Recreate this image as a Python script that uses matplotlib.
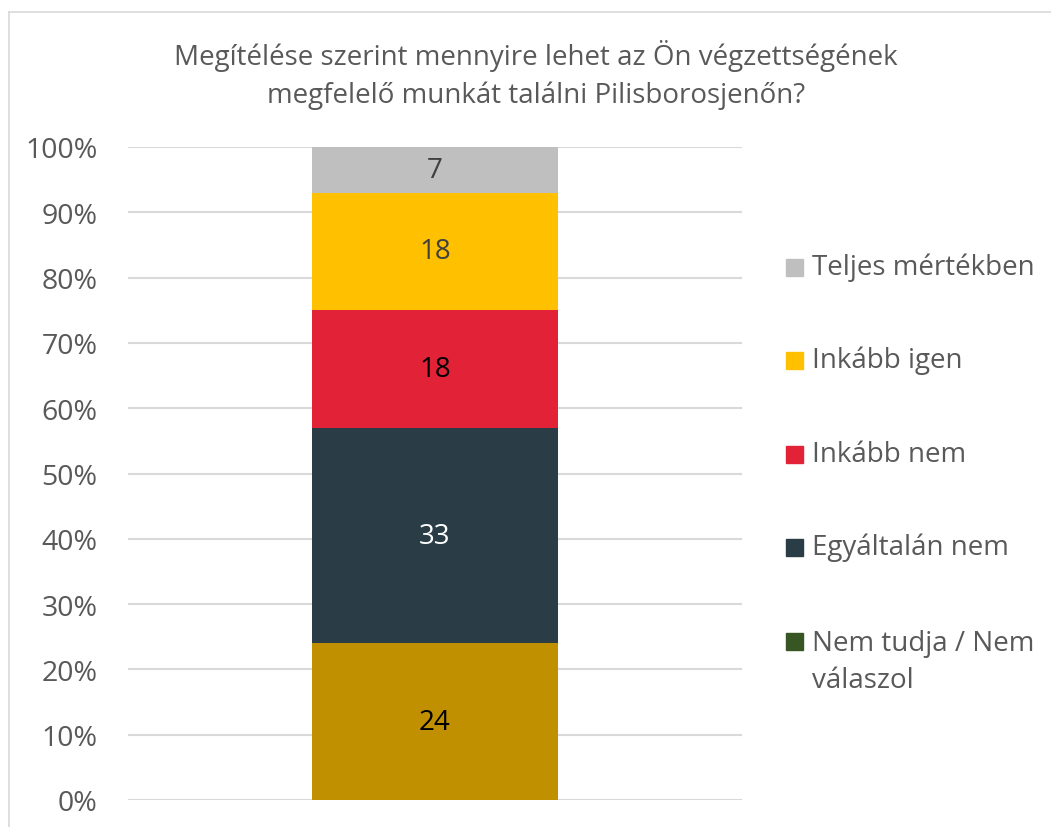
import matplotlib
matplotlib.use("Agg")
import matplotlib.pyplot as plt
from matplotlib.patches import Rectangle
from matplotlib.lines import Line2D

plt.rcParams['font.family'] = ['Open Sans', 'DejaVu Sans']

title = "Megítélése szerint mennyire lehet az Ön végzettségének\nmegfelelő munkát találni Pilisborosjenőn?"
series_names = ["", "Nem tudja / Nem válaszol", "Egyáltalán nem", "Inkább nem", "Inkább igen", "Teljes mértékben"]
series_values = [24, 0, 33, 18, 18, 7]
series_colors = ["#C09000", "#375623", "#2A3C46", "#E22237", "#FFC000", "#BFBFBF"]
label_colors = ["#000000", "#000000", "#FFFFFF", "#000000", "#404040", "#404040"]
legend_order = ["Teljes mértékben", "Inkább igen", "Inkább nem", "Egyáltalán nem", "Nem tudja / Nem\nválaszol"]
legend_colors = ["#BFBFBF", "#FFC000", "#E22237", "#2A3C46", "#375623"]
yticks = [0, 10, 20, 30, 40, 50, 60, 70, 80, 90, 100]

W, H = 1051, 828
fig = plt.figure(figsize=(W / 100, H / 100), dpi=100)
fig.patch.set_facecolor("white")

# chart frame (top and left edges visible)
fig.add_artist(Line2D([9 / W, 9 / W], [0, 1 - 13 / H], transform=fig.transFigure, color="#D9D9D9", lw=1.2))
fig.add_artist(Line2D([9 / W, 1], [1 - 13 / H, 1 - 13 / H], transform=fig.transFigure, color="#D9D9D9", lw=1.2))

ax = fig.add_axes([128 / W, 1 - 801 / H, (742 - 128) / W, (801 - 148) / H])
total = sum(series_values)
bottom = 0.0
for name, v, c, lc in zip(series_names, series_values, series_colors, label_colors):
    pct = v / total * 100
    ax.bar([0], [pct], bottom=bottom, width=0.4, color=c, zorder=3)
    if v > 0:
        ax.text(0, bottom + pct / 2, str(v), ha="center", va="center", fontsize=20, color=lc, zorder=4)
    bottom += pct

ax.set_xlim(-0.5, 0.5)
ax.set_ylim(0, 100)
ax.set_yticks(yticks)
ax.set_yticklabels([f"{t}%" for t in yticks], fontsize=20.5, color="#595959")
ax.tick_params(axis="y", length=0, pad=22)
ax.set_xticks([])
for s in ax.spines.values():
    s.set_visible(False)
ax.yaxis.grid(True, color="#D9D9D9", lw=1.5, zorder=0)
ax.set_axisbelow(True)

fig.text(536 / W, 1 - 75 / H, title, ha="center", va="center", fontsize=20, color="#595959", linespacing=1.45)

# legend
ys = [268, 361, 455, 548, 642]
for lab, col, y in zip(legend_order, legend_colors, ys):
    fig.add_artist(Rectangle((786 / W, 1 - (y + 9) / H), 17 / W, 17 / H, transform=fig.transFigure, color=col))
    yc = y + 20.5 * lab.count("\n")
    fig.text(812 / W, 1 - yc / H, lab, ha="left", va="center",
             fontsize=20, color="#595959", linespacing=1.45)

fig.savefig("out.png", dpi=100, facecolor="white")
